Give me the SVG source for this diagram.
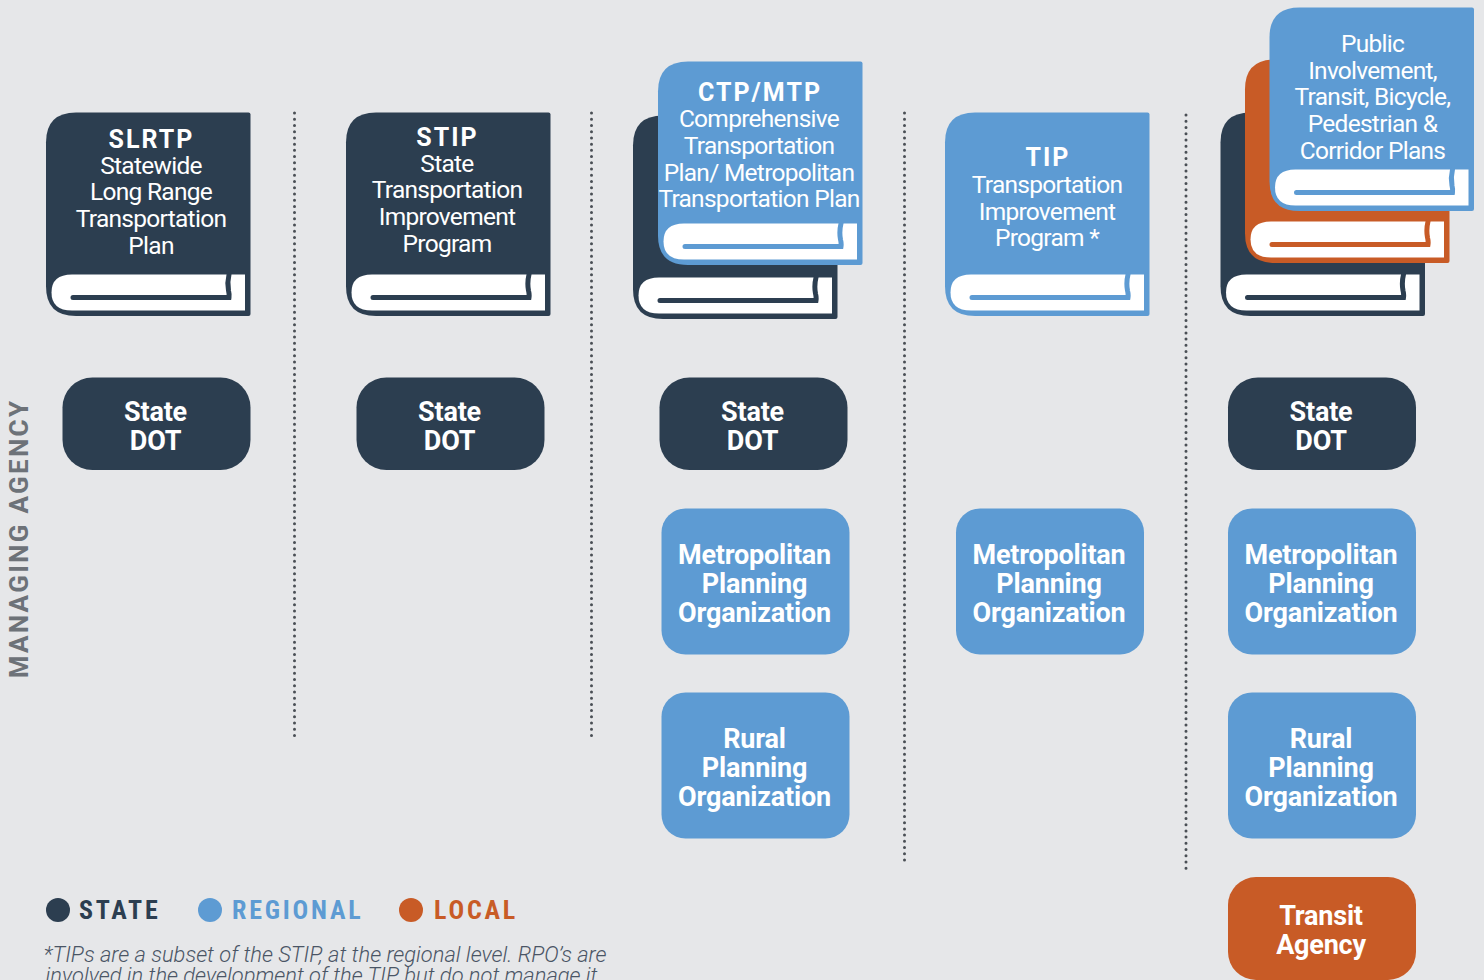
<svg xmlns="http://www.w3.org/2000/svg" width="1484" height="980" viewBox="0 0 1484 980">
<style>
text{font-family:Roboto,"Liberation Sans",sans-serif;fill:#fff;text-anchor:middle}
.navy{color:#2c3e50;fill:#2c3e50}.blue{color:#5d9bd3;fill:#5d9bd3}.orange{color:#c85b26;fill:#c85b26}
.bt{font-size:24.500px;font-weight:400;letter-spacing:-.72px}
.bh{font-size:25px;font-weight:700;letter-spacing:2px}
.pill{font-size:27px;font-weight:700;letter-spacing:-.2px}
.leg{font-size:26px;font-weight:700;letter-spacing:2.8px;text-anchor:start;font-stretch:condensed}
.note{font-size:21.900px;font-style:italic;font-weight:300;fill:#4a5565}
.div{stroke:#4a4f55;stroke-width:3;stroke-dasharray:0 6.225;stroke-linecap:round;fill:none}
</style>
<defs>
<symbol id="book" width="205" height="204" viewBox="0 0 205 204" overflow="visible">
<path fill="currentColor" d="M30 0H202.500Q204.500 0 204.500 2V201.500Q204.500 203.500 202.500 203.500H30Q0 203.500 0 174V30Q0 0 30 0Z"/>
<path fill="#fff" d="M26 162H199V198H26Q5.500 198 5.500 180Q5.500 162 26 162Z"/>
<path fill="none" stroke="currentColor" stroke-width="5" stroke-linecap="round" d="M27 185H183Q183.500 182 182.500 178Q181 170 183 162"/>
</symbol>
</defs>
<rect width="1484" height="980" fill="#e6e7e9"/>
<g id="connectors">
<path class="div" d="M294.500 113V737"/>
<path class="div" d="M591.500 113V737"/>
<path class="div" d="M904.500 113V862"/>
<path class="div" d="M1186 115V870"/>
</g>
<text id="axis" transform="translate(28,538.500) rotate(-90)" font-size="26" font-weight="700" letter-spacing="2.300" style="fill:#6d7278">MANAGING AGENCY</text>
<g id="book-slrtp" class="navy"><use href="#book" x="46" y="112.500"/>
<text class="bh" x="151.500" y="147.500">SLRTP</text><text class="bt" x="151" y="173.500">Statewide</text><text class="bt" x="151" y="200">Long Range</text><text class="bt" x="151" y="227">Transportation</text><text class="bt" x="151" y="254">Plan</text></g>
<g id="book-stip" class="navy"><use href="#book" x="346" y="112.500"/>
<text class="bh" x="447.500" y="145.500">STIP</text><text class="bt" x="447" y="171.500">State</text><text class="bt" x="447" y="198">Transportation</text><text class="bt" x="447" y="225">Improvement</text><text class="bt" x="447" y="252">Program</text></g>
<g id="book-ctp-back" class="navy"><use href="#book" x="633" y="115.500"/></g>
<g id="book-ctp" class="blue"><use href="#book" x="658" y="61.500"/>
<text class="bh" x="760" y="101">CTP/MTP</text><text class="bt" x="759" y="127">Comprehensive</text><text class="bt" x="759" y="154">Transportation</text><text class="bt" x="759" y="181">Plan/ Metropolitan</text><text class="bt" x="759" y="207">Transportation Plan</text></g>
<g id="book-tip" class="blue"><use href="#book" x="945" y="112.500"/>
<text class="bh" x="1048" y="166">TIP</text><text class="bt" x="1047" y="193">Transportation</text><text class="bt" x="1047" y="220">Improvement</text><text class="bt" x="1047" y="246">Program *</text></g>
<g id="book-pi-back1" class="navy"><use href="#book" x="1220.500" y="112.500"/></g>
<g id="book-pi-back2" class="orange"><use href="#book" x="1245" y="59.500"/></g>
<g id="book-pi" class="blue"><use href="#book" x="1269.500" y="7.500"/>
<text class="bt" x="1372.500" y="52">Public</text><text class="bt" x="1372.500" y="79">Involvement,</text><text class="bt" x="1372.500" y="105">Transit, Bicycle,</text><text class="bt" x="1372.500" y="132">Pedestrian &amp;</text><text class="bt" x="1372.500" y="158.500">Corridor Plans</text></g>
<g id="dot1"><rect class="navy" x="62.500" y="377.500" width="188" height="92.500" rx="30"/><text class="pill" x="155.500" y="420.500">State</text><text class="pill" x="155.500" y="449.500">DOT</text></g>
<g id="dot2"><rect class="navy" x="356.500" y="377.500" width="188" height="92.500" rx="30"/><text class="pill" x="449.500" y="420.500">State</text><text class="pill" x="449.500" y="449.500">DOT</text></g>
<g id="dot3"><rect class="navy" x="659.500" y="377.500" width="188" height="92.500" rx="30"/><text class="pill" x="752.500" y="420.500">State</text><text class="pill" x="752.500" y="449.500">DOT</text></g>
<g id="dot5"><rect class="navy" x="1228" y="377.500" width="188" height="92.500" rx="30"/><text class="pill" x="1321" y="420.500">State</text><text class="pill" x="1321" y="449.500">DOT</text></g>
<g id="mpo3"><rect class="blue" x="661.500" y="508.500" width="188" height="146" rx="24"/><text class="pill" x="754.500" y="563.500">Metropolitan</text><text class="pill" x="754.500" y="592.500">Planning</text><text class="pill" x="754.500" y="621.500">Organization</text></g>
<g id="mpo4"><rect class="blue" x="956" y="508.500" width="188" height="146" rx="24"/><text class="pill" x="1049" y="563.500">Metropolitan</text><text class="pill" x="1049" y="592.500">Planning</text><text class="pill" x="1049" y="621.500">Organization</text></g>
<g id="mpo5"><rect class="blue" x="1228" y="508.500" width="188" height="146" rx="24"/><text class="pill" x="1321" y="563.500">Metropolitan</text><text class="pill" x="1321" y="592.500">Planning</text><text class="pill" x="1321" y="621.500">Organization</text></g>
<g id="rpo3"><rect class="blue" x="661.500" y="692.500" width="188" height="146" rx="24"/><text class="pill" x="754.500" y="747.500">Rural</text><text class="pill" x="754.500" y="776.500">Planning</text><text class="pill" x="754.500" y="805.500">Organization</text></g>
<g id="rpo5"><rect class="blue" x="1228" y="692.500" width="188" height="146" rx="24"/><text class="pill" x="1321" y="747.500">Rural</text><text class="pill" x="1321" y="776.500">Planning</text><text class="pill" x="1321" y="805.500">Organization</text></g>
<g id="transit"><rect class="orange" x="1228" y="877" width="188" height="103" rx="28"/><text class="pill" x="1321" y="924.500">Transit</text><text class="pill" x="1321" y="953.500">Agency</text></g>
<g id="legend">
<ellipse class="navy" cx="58" cy="910" rx="12" ry="12"/><text class="leg navy" x="79" y="919">STATE</text>
<ellipse class="blue" cx="210" cy="910" rx="12" ry="12"/><text class="leg blue" x="232" y="919">REGIONAL</text>
<ellipse class="orange" cx="411" cy="910" rx="12" ry="12"/><text class="leg orange" x="434" y="919">LOCAL</text>
</g>
<text class="note" x="325" y="962">*TIPs are a subset of the STIP, at the regional level. RPO’s are</text>
<text class="note" x="321.500" y="983">involved in the development of the TIP but do not manage it</text>
</svg>
